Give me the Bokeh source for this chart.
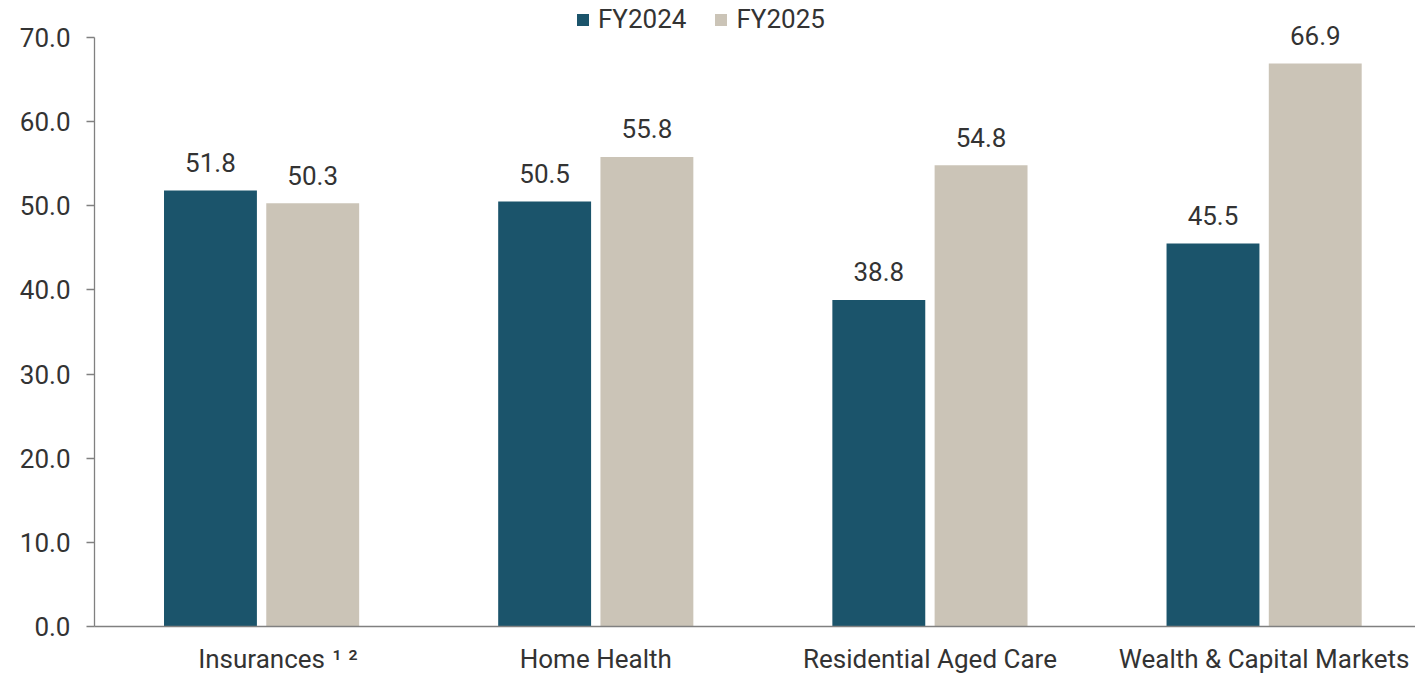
from bokeh.plotting import figure
from bokeh.models import ColumnDataSource, Range1d, FixedTicker, Legend, LegendItem, CustomJSTickFormatter
from bokeh.embed import file_html
from bokeh.resources import INLINE
from bokeh.core.properties import value

categories = ["Insurances", "Home Health", "Residential Aged Care", "Wealth & Capital Markets"]
footnote_marks = "¹ ²"
fy2024 = [51.8, 50.5, 38.8, 45.5]
fy2025 = [50.3, 55.8, 54.8, 66.9]
series_names = ["FY2024", "FY2025"]
y_ticks = [0, 10, 20, 30, 40, 50, 60, 70]

C1 = "#1B546B"
C2 = "#CBC4B7"
TXT = "#333333"
AX = "#808080"
FONT = "Roboto"
FS = "26px"

centers = [i + 0.5 for i in range(len(categories))]
off = 0.153
bw = 0.278

src1 = ColumnDataSource(dict(x=[c - off for c in centers], top=fy2024,
                             lab=[f"{v:.1f}" for v in fy2024]))
src2 = ColumnDataSource(dict(x=[c + off for c in centers], top=fy2025,
                             lab=[f"{v:.1f}" for v in fy2025]))

p = figure(width=1415, height=676, output_backend="svg", toolbar_location=None,
           x_range=Range1d(0, 3.953), y_range=Range1d(0, 74.39),
           min_border_left=94, min_border_right=0, min_border_top=0, min_border_bottom=49)
p.outline_line_color = None
p.xgrid.visible = False
p.ygrid.visible = False

r1 = p.vbar(x="x", top="top", width=bw, source=src1, fill_color=C1, line_color=None)
r2 = p.vbar(x="x", top="top", width=bw, source=src2, fill_color=C2, line_color=None)

for s in (src1, src2):
    p.text(x="x", y="top", text="lab", source=s, text_align="center", text_baseline="middle",
           y_offset=-28, text_font=value(FONT), text_font_size=FS, text_color=TXT)

# y axis
p.yaxis.ticker = FixedTicker(ticks=y_ticks)
p.yaxis.formatter = CustomJSTickFormatter(code="return tick.toFixed(1);")
p.yaxis.bounds = (0, 70)
p.yaxis.axis_line_color = AX
p.yaxis.axis_line_width = 1.3
p.yaxis.major_tick_line_color = AX
p.yaxis.major_tick_line_width = 1.3
p.yaxis.major_tick_out = 8
p.yaxis.major_tick_in = 0
p.yaxis.minor_tick_line_color = None
p.yaxis.major_label_standoff = 16
p.yaxis.major_label_text_font = FONT
p.yaxis.major_label_text_font_size = FS
p.yaxis.major_label_text_color = TXT

# x axis (category names + footnote marks after the first)
sup_x = centers[0] + 0.25
xt = centers + [sup_x]
p.xaxis.ticker = FixedTicker(ticks=xt)
overrides = {c: n for c, n in zip(centers, categories)}
overrides[sup_x] = footnote_marks
p.xaxis.major_label_overrides = overrides
p.xaxis.axis_line_color = AX
p.xaxis.axis_line_width = 1.3
p.xaxis.major_tick_line_color = None
p.xaxis.major_tick_out = 0
p.xaxis.major_tick_in = 0
p.xaxis.minor_tick_line_color = None
p.xaxis.major_label_standoff = 17
p.xaxis.major_label_text_font = FONT
p.xaxis.major_label_text_font_size = FS
p.xaxis.major_label_text_color = TXT

legend = Legend(items=[LegendItem(label=series_names[0], renderers=[r1]),
                       LegendItem(label=series_names[1], renderers=[r2])],
                orientation="horizontal", location=(481, 592),
                glyph_width=15, glyph_height=15, label_standoff=8, spacing=27,
                padding=0, margin=0, border_line_color=None, background_fill_alpha=0,
                label_text_font=FONT, label_text_font_size=FS, label_text_color=TXT)
p.add_layout(legend, "center")

open("out.html", "w").write(file_html(p, INLINE))
